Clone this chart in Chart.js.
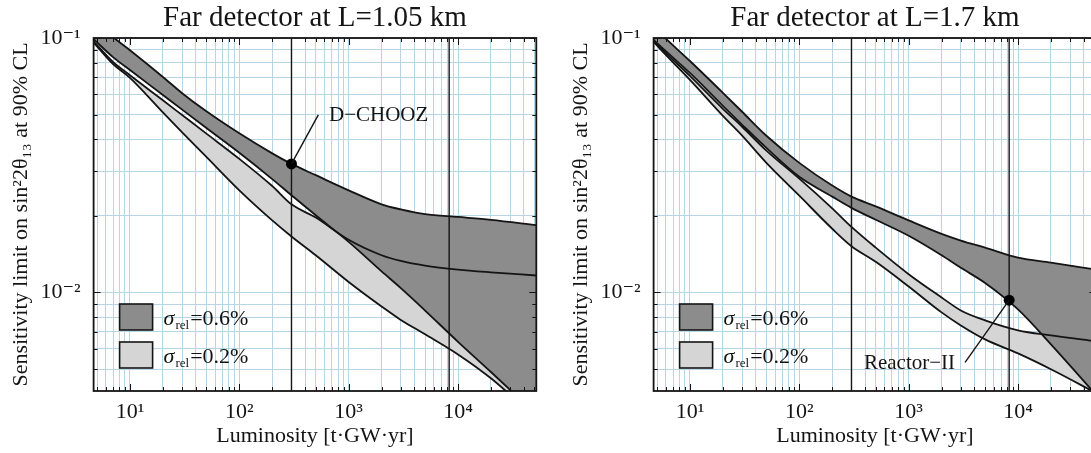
<!DOCTYPE html>
<html lang="en">
<head>
  <meta charset="UTF-8">
  <title>Sensitivity limit on sin²2θ13 vs luminosity</title>
  <script src="https://cdn.jsdelivr.net/npm/chart.js"></script>
  <style>
    html, body { margin: 0; padding: 0; background: #fff; overflow: hidden; }
    #wrap { position: relative; width: 1091px; height: 453px; overflow: hidden; }
    #wrap canvas { position: absolute; top: 0; }
    #chartShort { left: 0; }
    #chartLong { left: 560px; }
  </style>
</head>
<body>
  <div id="wrap">
    <canvas id="chartShort" width="545" height="453"></canvas>
    <canvas id="chartLong" width="545" height="453"></canvas>
  </div>

  <script>
    // luminosity grid [t GW yr] shared by all curves
    const luminosity = [4.65, 7, 10, 20, 30, 50, 100, 200, 300, 500, 1000, 2000, 3000, 5000, 10000, 20000, 52000];

    // far detector at L = 1.05 km
    const shortDarkUpper  = [0.1156, 0.1007, 0.0895, 0.0703, 0.0607, 0.0515, 0.0422, 0.0352, 0.0320, 0.0289, 0.0252, 0.0222, 0.0212, 0.0203, 0.0198, 0.0193, 0.0184];
    const shortDarkLower  = [0.0990, 0.0841, 0.0748, 0.0597, 0.0523, 0.0443, 0.0354, 0.0279, 0.0241, 0.0201, 0.0158, 0.0121, 0.0104, 0.00849, 0.0064, 0.00487, 0.00332];
    const shortLightUpper = [0.0970, 0.0805, 0.0714, 0.0569, 0.0498, 0.0421, 0.0335, 0.0262, 0.0222, 0.0197, 0.0161, 0.0140, 0.0133, 0.01275, 0.0123, 0.0120, 0.01166];
    const shortLightLower = [0.0960, 0.0790, 0.0697, 0.0510, 0.0426, 0.0341, 0.0252, 0.0192, 0.0166, 0.0140, 0.0110, 0.00881, 0.0078, 0.00685, 0.00571, 0.0046, 0.0032];

    // far detector at L = 1.7 km
    const longDarkUpper  = [0.1103, 0.0936, 0.0812, 0.0609, 0.0513, 0.0413, 0.0323, 0.0263, 0.0238, 0.0218, 0.0192, 0.0170, 0.0160, 0.0150, 0.0137, 0.0131, 0.0123];
    const longDarkLower  = [0.0982, 0.0837, 0.0729, 0.0541, 0.0456, 0.0370, 0.0285, 0.0238, 0.0215, 0.0193, 0.0167, 0.0140, 0.0125, 0.0109, 0.00858, 0.00625, 0.00395];
    const longLightUpper = [0.0973, 0.0821, 0.0710, 0.0527, 0.0448, 0.0361, 0.0280, 0.0214, 0.0181, 0.0150, 0.0118, 0.00956, 0.00850, 0.00777, 0.00710, 0.00678, 0.00642];
    const longLightLower = [0.0965, 0.0802, 0.0684, 0.0494, 0.0413, 0.0323, 0.0240, 0.0178, 0.0152, 0.0132, 0.01056, 0.00835, 0.00742, 0.00654, 0.00576, 0.00499, 0.00402];

    // vertical reference luminosities
    const markLumi = [300, 8300];

    // experiments marked on the curves
    const dChoozPoint = { x: 300, y: 0.0320 };
    const reactor2Point = { x: 8300, y: 0.00933 };

    // axis ranges and labelled ticks
    const xRange = [4.65, 52000];
    const yRange = [0.0041, 0.1];
    const xTickValues = [10, 100, 1000, 10000];
    const xTickText = ["10¹", "10²", "10³", "10⁴"];
    const yTickValues = [0.01, 0.1];
    const yTickText = ["10⁻²", "10⁻¹"];

    const legendText = ["=0.6%", "=0.2%"];

    const SERIF = "'Liberation Serif', 'DejaVu Serif', serif";
    const DARK = "#8c8c8c";
    const LIGHT = "#d5d5d5";
    const GRID = "#b8d5e6";
    const INK = "#141414";

    // 1..9 x 10^n inside a range, for grid lines
    function logGrid(lo, hi) {
      const out = [];
      for (let e = Math.floor(Math.log10(lo)); e <= Math.ceil(Math.log10(hi)); e++) {
        for (let m = 1; m < 10; m++) {
          const v = m * Math.pow(10, e);
          if (v >= lo && v <= hi) out.push(v);
        }
      }
      return out;
    }
    function tickLabel(v, values, text) {
      const i = values.findIndex(t => Math.abs(t - v) / t < 1e-9);
      return i >= 0 ? text[i] : "";
    }
    const isMajor = v => Math.abs(Math.log10(v) - Math.round(Math.log10(v))) < 1e-9;

    const decor = {
      id: "decor",
      afterDatasetsDraw(chart, args, opts) {
        const { ctx, chartArea: a, scales: { x, y } } = chart;
        ctx.save();
        ctx.strokeStyle = INK;
        ctx.lineWidth = 1;
        // inner tick marks on all four sides
        x.ticks.forEach(t => {
          const px = Math.round(x.getPixelForValue(t.value)) + 0.5;
          const len = isMajor(t.value) ? 7 : 4;
          ctx.beginPath();
          ctx.moveTo(px, a.bottom); ctx.lineTo(px, a.bottom - len);
          ctx.moveTo(px, a.top); ctx.lineTo(px, a.top + len);
          ctx.stroke();
        });
        y.ticks.forEach(t => {
          const py = Math.round(y.getPixelForValue(t.value)) + 0.5;
          const len = isMajor(t.value) ? 7 : 4;
          ctx.beginPath();
          ctx.moveTo(a.left, py); ctx.lineTo(a.left + len, py);
          ctx.moveTo(a.right, py); ctx.lineTo(a.right - len, py);
          ctx.stroke();
        });
        ctx.lineWidth = 1.8;
        ctx.strokeRect(a.left, a.top, a.right - a.left, a.bottom - a.top);

        // title
        ctx.fillStyle = INK;
        ctx.font = "29px " + SERIF;
        ctx.textAlign = "center";
        ctx.textBaseline = "alphabetic";
        ctx.fillText(opts.title, (a.left + a.right) / 2, 26);

        // annotation: leader line + label
        const n = opts.note;
        ctx.lineWidth = 1.4;
        ctx.beginPath();
        ctx.moveTo(x.getPixelForValue(n.from.x), y.getPixelForValue(n.from.y));
        ctx.lineTo(x.getPixelForValue(n.to.x), y.getPixelForValue(n.to.y));
        ctx.stroke();
        ctx.font = "21px " + SERIF;
        ctx.textAlign = n.align;
        ctx.textBaseline = "middle";
        ctx.fillText(n.text, x.getPixelForValue(n.at.x), y.getPixelForValue(n.at.y));

        // legend
        const bx = a.left + 26, bw = 33, bh = 26;
        [[DARK, 304], [LIGHT, 342]].forEach(([c, by], i) => {
          ctx.fillStyle = c;
          ctx.fillRect(bx, by, bw, bh);
          ctx.lineWidth = 1.6;
          ctx.strokeStyle = INK;
          ctx.strokeRect(bx, by, bw, bh);
          ctx.fillStyle = INK;
          ctx.textAlign = "left";
          ctx.textBaseline = "alphabetic";
          let tx = bx + 44;
          const base = by + 21;
          ctx.font = "italic 22px " + SERIF;
          ctx.fillText("σ", tx, base);
          tx += ctx.measureText("σ").width + 1;
          ctx.font = "13px " + SERIF;
          ctx.fillText("rel", tx, base + 4);
          tx += ctx.measureText("rel").width + 1;
          ctx.font = "22px " + SERIF;
          ctx.fillText(legendText[i], tx, base);
        });
        ctx.restore();
      }
    };

    function curve(arr) {
      return luminosity.map((x, i) => ({ x, y: arr[i] }));
    }

    function buildChart(id, title, bands, point, note) {
      const line = { borderColor: INK, borderWidth: 1.8, pointRadius: 0, cubicInterpolationMode: "monotone" };
      const datasets = [
        { data: [point], type: "scatter", pointRadius: 5.5, pointBackgroundColor: "#000", pointBorderWidth: 0 },
        { data: [{ x: markLumi[0], y: yRange[0] }, { x: markLumi[0], y: yRange[1] }], borderColor: INK, borderWidth: 1.4, pointRadius: 0, fill: false },
        { data: [{ x: markLumi[1], y: yRange[0] }, { x: markLumi[1], y: yRange[1] }], borderColor: INK, borderWidth: 1.4, pointRadius: 0, fill: false },
        { ...line, label: "σrel=0.6% upper", data: curve(bands[0]), fill: "+1", backgroundColor: DARK },
        { ...line, label: "σrel=0.6% lower", data: curve(bands[1]), fill: false },
        { ...line, label: "σrel=0.2% upper", data: curve(bands[2]), fill: "+1", backgroundColor: LIGHT },
        { ...line, label: "σrel=0.2% lower", data: curve(bands[3]), fill: false }
      ];

      return new Chart(document.getElementById(id), {
        type: "line",
        data: { datasets },
        plugins: [decor],
        options: {
          responsive: false,
          animation: false,
          layout: { padding: { top: 38, right: 8.7, left: 0, bottom: 0 } },
          plugins: {
            legend: { display: false },
            tooltip: { enabled: false },
            filler: { drawTime: "beforeDatasetsDraw" },
            decor: { title, note }
          },
          scales: {
            x: {
              type: "logarithmic",
              min: xRange[0],
              max: xRange[1],
              afterBuildTicks: s => { s.ticks = logGrid(xRange[0], xRange[1]).map(v => ({ value: v })); },
              afterFit: s => { s.height = 62; },
              grid: { color: GRID, lineWidth: 1, drawTicks: false },
              border: { display: false },
              ticks: {
                autoSkip: false, maxRotation: 0, padding: 8, color: INK,
                font: { family: SERIF, size: 22 },
                callback: v => tickLabel(v, xTickValues, xTickText)
              },
              title: {
                display: true, text: "Luminosity [t·GW·yr]", color: INK,
                font: { family: SERIF, size: 22 }, padding: { top: 0, bottom: 4 }
              }
            },
            y: {
              type: "logarithmic",
              min: yRange[0],
              max: yRange[1],
              afterBuildTicks: s => { s.ticks = logGrid(yRange[0], yRange[1]).map(v => ({ value: v })); },
              afterFit: s => { s.width = 93.6; },
              grid: { color: GRID, lineWidth: 1, drawTicks: false },
              border: { display: false },
              ticks: {
                autoSkip: false, padding: 13, color: INK,
                font: { family: SERIF, size: 22 },
                callback: v => tickLabel(v, yTickValues, yTickText)
              },
              title: {
                display: true, text: "Sensitivity limit on sin²2θ₁₃ at 90% CL", color: INK,
                font: { family: SERIF, size: 22 }, padding: { top: 8, bottom: 0 }
              }
            }
          }
        }
      });
    }

    buildChart("chartShort", "Far detector at L=1.05 km",
      [shortDarkUpper, shortDarkLower, shortLightUpper, shortLightLower],
      dChoozPoint,
      { text: "D−CHOOZ", align: "left", from: dChoozPoint, to: { x: 528, y: 0.0499 }, at: { x: 661, y: 0.0494 } });

    buildChart("chartLong", "Far detector at L=1.7 km",
      [longDarkUpper, longDarkLower, longLightUpper, longLightLower],
      reactor2Point,
      { text: "Reactor−II", align: "right", from: reactor2Point, to: { x: 3280, y: 0.00531 }, at: { x: 2658, y: 0.00524 } });
  </script>
</body>
</html>
